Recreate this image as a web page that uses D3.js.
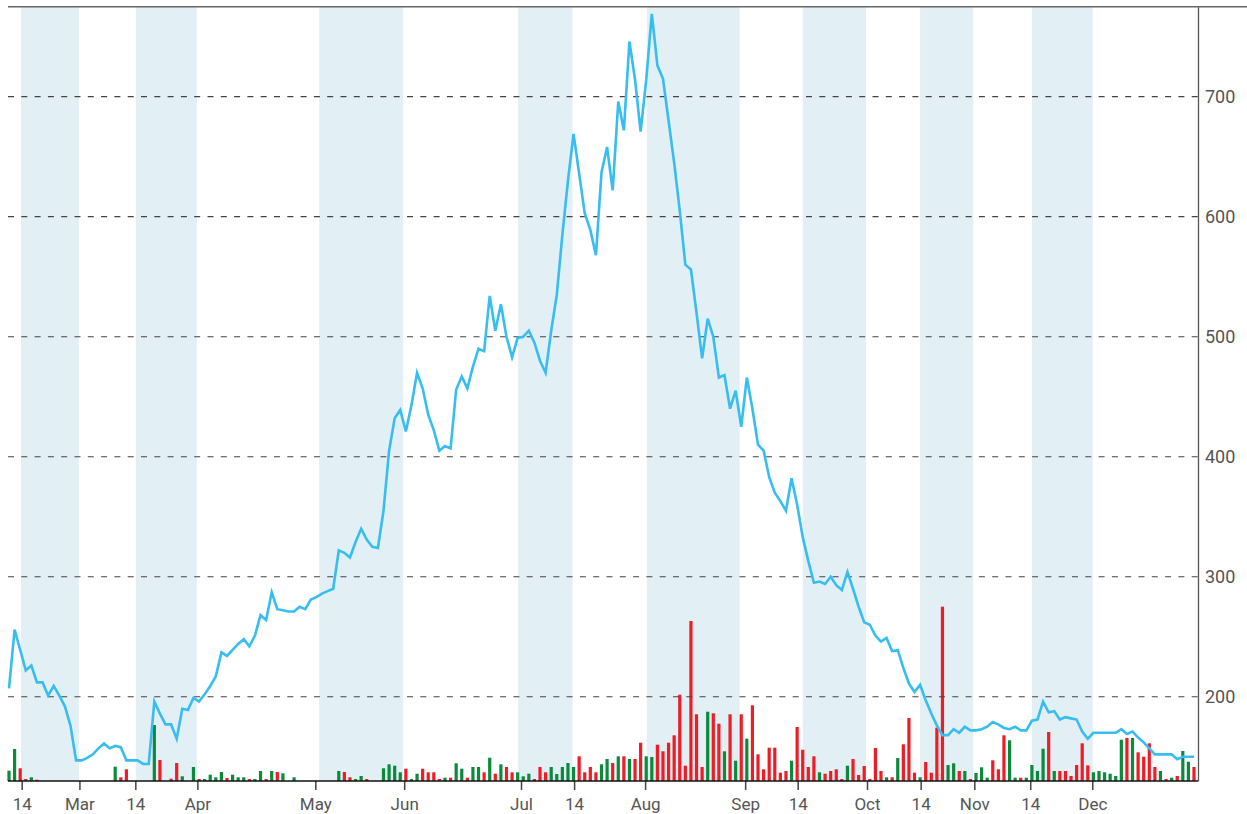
<!DOCTYPE html>
<html>
<head>
<meta charset="utf-8">
<script src="https://cdn.jsdelivr.net/npm/d3@7/dist/d3.min.js"></script>
<style>
  body { margin: 0; background: #fff; }
  svg text { font-family: Roboto, "DejaVu Sans", sans-serif; fill: #555; }
</style>
</head>
<body>
<svg id="chart" width="1247" height="814"></svg>
<script>

// daily closing price (one entry per trading session)
const closes = [
    207, 256, 239, 222, 226, 212, 212, 201, 209, 201,
    192, 176, 147, 147, 149, 152, 157, 161, 157, 159,
    158, 147, 147, 147, 144, 144, 196, 186, 177, 177,
    165, 190, 189, 199, 196, 202, 209, 217, 237, 234,
    239, 244, 248, 242, 251, 268, 264, 287, 273, 272,
    271, 271, 275, 273, 281, 283, 286, 288, 290, 322,
    320, 316, 329, 340, 331, 325, 324, 355, 405, 432,
    439, 421, 443, 470, 457, 435, 422, 405, 409, 407,
    456, 467, 457, 475, 490, 488, 534, 505, 527, 500,
    483, 499, 500, 505, 495, 480, 470, 505, 535, 585,
    630, 669, 636, 603, 589, 568, 637, 658, 622, 696,
    672, 746, 714, 671, 714, 769, 726, 715, 680, 645,
    605, 560, 556, 520, 482, 515, 500, 466, 468, 440,
    455, 425, 466, 440, 410, 405, 383, 370, 363, 355,
    382, 360, 333, 313, 295, 296, 294, 300, 293, 289,
    304, 290, 275, 262, 260, 251, 246, 249, 238, 239,
    224, 211, 204, 210, 197, 186, 176, 168, 168, 173,
    170, 175, 172, 172, 173, 175, 179, 177, 174, 173,
    175, 172, 172, 180, 181, 196, 187, 188, 181, 183,
    182, 181, 171, 165, 170, 170, 170, 170, 170, 173,
    169, 171, 166, 162, 157, 152, 152, 152, 152, 148,
    150, 150, 150
];

// traded volume, thousands
const volumes = [
    10.3, 32, 12.7, 2, 3.7, 1.3, 0, 0, 0, 0,
    0, 0, 0, 0, 0, 0, 0, 0, 0, 14.3,
    3.7, 11.7, 0, 0, 0, 0, 56, 21, 0, 2.3,
    18, 4.7, 0, 14, 2, 2, 6.3, 3.7, 9, 3,
    6.3, 3.7, 3.7, 2, 2, 10, 2, 10, 9, 7.7,
    0, 3.7, 0, 0, 0, 0, 0, 0, 0, 10,
    9, 3.7, 2, 5, 2, 0, 0, 12.7, 16.7, 15.3,
    8.7, 12.3, 2, 7.3, 12.3, 8.7, 8.7, 2, 3.3, 3.3,
    17.7, 12.3, 3.3, 14, 14, 8.7, 23.3, 7.3, 16.7, 14,
    8.7, 8.7, 4.7, 7.3, 2, 14, 8.7, 14, 7, 14,
    18, 14, 24.7, 8.7, 14, 8.7, 16.7, 22, 18, 24.7,
    24.7, 22, 22, 38.3, 24.7, 24, 36.3, 29.7, 38.3, 45.7,
    86.3, 15.3, 160, 66.7, 14, 69.3, 67.7, 57.3, 29.7, 66.7,
    20.3, 66.7, 42.3, 75.7, 26.7, 11.7, 33.3, 33.3, 8.3, 10,
    20.3, 54, 31.3, 14, 24.7, 8.7, 7.3, 10, 11.7, 2,
    15.3, 22, 6, 15, 2, 33, 10, 3.7, 3.7, 23,
    36.7, 63, 8.3, 3.7, 19, 8.3, 53.3, 174.3, 16, 17.7,
    10, 10, 2, 8, 13.7, 3.3, 20.7, 11.7, 45.7, 40.7,
    3.3, 3.3, 3.3, 16, 10, 32.3, 49, 10, 10, 10,
    5, 16, 37.7, 15.7, 8.7, 10, 8.7, 7.3, 5, 41.3,
    43, 43, 28.7, 24.3, 37.7, 14, 10, 2, 3.3, 5,
    30, 19.3, 14
];

// 1 = session closed up (green), -1 = closed down (red)
const moves = [
    1, 1, -1, -1, 1, -1, 0, 0, 0, 0,
    0, 0, 0, 0, 0, 0, 0, 0, 0, 1,
    -1, -1, 0, 0, 0, 0, 1, -1, 0, -1,
    -1, 1, 0, 1, -1, 1, 1, 1, 1, -1,
    1, 1, 1, -1, 1, 1, -1, 1, -1, 1,
    0, 1, 0, 0, 0, 0, 0, 0, 0, 1,
    -1, -1, 1, 1, -1, 0, 0, 1, 1, 1,
    1, -1, 1, 1, -1, -1, -1, -1, 1, -1,
    1, 1, -1, 1, 1, -1, 1, -1, 1, -1,
    -1, 1, 1, 1, -1, -1, -1, 1, 1, 1,
    1, 1, -1, -1, -1, -1, 1, 1, -1, 1,
    -1, 1, -1, -1, 1, 1, -1, -1, -1, -1,
    -1, -1, -1, -1, -1, 1, -1, -1, 1, -1,
    1, -1, 1, -1, -1, -1, -1, -1, -1, -1,
    1, -1, -1, -1, -1, 1, -1, -1, -1, -1,
    1, -1, -1, -1, -1, -1, -1, 1, -1, 1,
    -1, -1, -1, 1, -1, -1, -1, -1, 1, 1,
    -1, 1, -1, 1, 1, 1, -1, -1, -1, 1,
    1, -1, 1, 1, 1, 1, -1, 1, -1, -1,
    -1, -1, -1, -1, 1, 1, 1, 1, 1, 1,
    -1, 1, -1, -1, -1, -1, 1, -1, 1, -1,
    1, 1, -1
];

// date ticks, placed by session index
const tickLabels = ['14', 'Mar', '14', 'Apr', 'May', 'Jun', 'Jul', '14', 'Aug', 'Sep', '14', 'Oct', '14', 'Nov', '14', 'Dec'];
const tickIndex = [2.27, 12.6, 22.6, 33.7, 54.8, 70.7, 91.6, 101.1, 113.8, 131.7, 141.1, 153.5, 163.1, 172.7, 182.7, 193.8];

// shaded periods, session index
const bandStart = [2.15, 22.7, 55.5, 91.1, 114.1, 142, 163, 183];
const bandEnd = [12.5, 33.6, 70.5, 100.8, 130.7, 153.3, 172.5, 193.9];

const priceTicks = [200, 300, 400, 500, 600, 700];


const W = 1247,
    H = 814,
    plotLeft = 8,
    plotRight = 1198,
    plotTop = 6.7,
    plotBottom = 781;

const svg = d3.select('#chart');

const x = d3.scaleLinear()
    .domain([0, closes.length - 1])
    .range([9, 1194]);

const y = d3.scaleLinear()
    .domain([129.8, 775])
    .range([plotBottom, plotTop]);

const yVol = d3.scaleLinear()
    .domain([0, 175])
    .range([plotBottom, plotBottom - 175]);

// bands
svg.append('g')
    .selectAll('rect')
    .data(bandStart)
    .join('rect')
    .attr('x', d => x(d))
    .attr('width', (d, i) => x(bandEnd[i]) - x(d))
    .attr('y', plotTop)
    .attr('height', plotBottom - plotTop)
    .attr('fill', '#e2eff4');

// volume bars
const bars = volumes
    .map((v, i) => ({i, v, m: moves[i]}))
    .filter(d => d.v > 0);

svg.append('g')
    .selectAll('rect')
    .data(bars)
    .join('rect')
    .attr('x', d => x(d.i) - 1.6)
    .attr('width', 3.2)
    .attr('y', d => yVol(d.v))
    .attr('height', d => plotBottom - yVol(d.v))
    .attr('fill', d => d.m > 0 ? '#0c8a3c' : '#ee1c25');

// grid
svg.append('g')
    .selectAll('line')
    .data(priceTicks)
    .join('line')
    .attr('x1', plotLeft)
    .attr('x2', plotRight)
    .attr('y1', d => y(d))
    .attr('y2', d => y(d))
    .attr('stroke', '#444')
    .attr('stroke-width', 1.2)
    .attr('stroke-dasharray', '6,7.3');

svg.append('line')
    .attr('x1', plotLeft)
    .attr('x2', W)
    .attr('y1', plotTop)
    .attr('y2', plotTop)
    .attr('stroke', '#666')
    .attr('stroke-width', 1.5);

// right axis
const yAxis = svg.append('g')
    .attr('transform', `translate(${plotRight},0)`)
    .call(d3.axisRight(y).tickValues(priceTicks).tickSize(0).tickSizeOuter(0).tickPadding(7));

yAxis.select('.domain').attr('stroke', '#555').attr('stroke-width', 1.3);
yAxis.selectAll('text').style('font-size', '18px');

// bottom axis
const xAxis = svg.append('g')
    .attr('transform', `translate(0,${plotBottom})`)
    .call(d3.axisBottom(x)
        .tickValues(tickIndex)
        .tickFormat((d, i) => tickLabels[i])
        .tickSize(9)
        .tickPadding(8));

xAxis.select('.domain').remove();
xAxis.selectAll('.tick line').attr('stroke', '#444').attr('stroke-width', 1.5);
xAxis.selectAll('text').style('font-size', '17px');

svg.append('line')
    .attr('x1', plotLeft)
    .attr('x2', plotRight)
    .attr('y1', plotBottom)
    .attr('y2', plotBottom)
    .attr('stroke', '#111')
    .attr('stroke-width', 1.6);

// price line
const line = d3.line()
    .x((d, i) => x(i))
    .y(d => y(d));

svg.append('path')
    .datum(closes)
    .attr('d', line)
    .attr('fill', 'none')
    .attr('stroke', '#38bdf0')
    .attr('stroke-width', 2.6);

</script>
</body>
</html>
